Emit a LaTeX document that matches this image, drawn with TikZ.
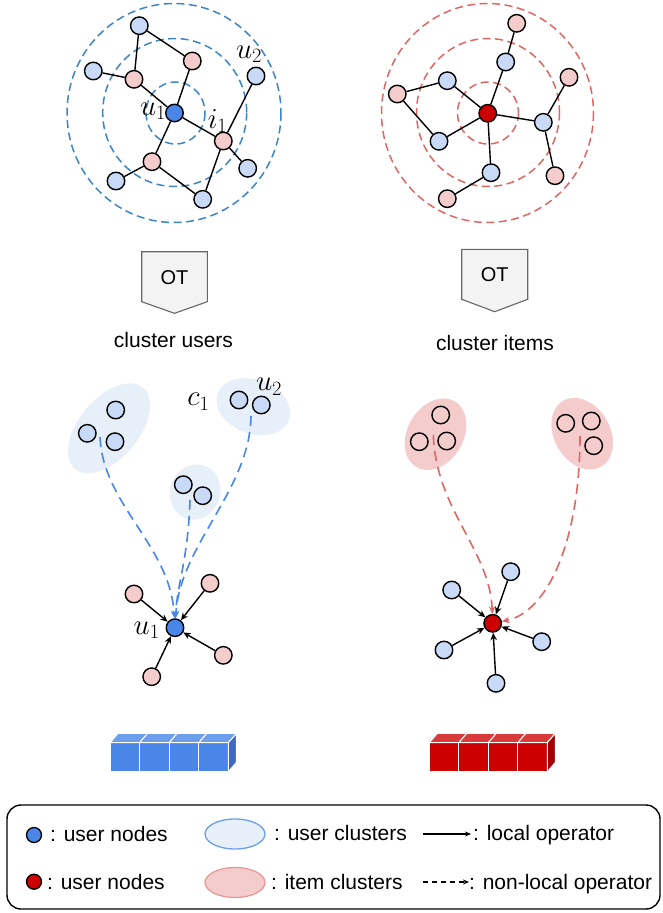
\RequirePackage{fix-cm}
\documentclass[tikz,border=0pt]{standalone}
\usepackage[no-math]{fontspec}
\setmainfont{Liberation Sans}
\usetikzlibrary{shapes.geometric,arrows.meta}
\definecolor{ublue}{HTML}{4A86E8}
\definecolor{lblue}{HTML}{C9DAF8}
\definecolor{lpink}{HTML}{F4CCCC}
\definecolor{ured}{HTML}{CC0000}
\definecolor{cblue}{HTML}{E7EFF8}
\definecolor{ringblue}{HTML}{3D85C6}
\definecolor{ringred}{HTML}{E06666}
\definecolor{otgray}{HTML}{F3F3F3}
\definecolor{otedge}{HTML}{666666}
\definecolor{bfront}{HTML}{4A86E8}
\definecolor{btop}{HTML}{6D9EEB}
\definecolor{bside}{HTML}{3C6BC0}
\definecolor{rfront}{HTML}{CC0000}
\definecolor{rtop}{HTML}{D93B3B}
\definecolor{rside}{HTML}{A00000}
\definecolor{legblue}{HTML}{6D9EEB}
\definecolor{legpink}{HTML}{EA9999}
\begin{document}
\begin{tikzpicture}[x=1pt,y=-1pt,
  vtx/.style={circle,draw=black,line width=1.4pt,minimum size=17.5pt,inner sep=0pt},
  bn/.style={vtx,fill=lblue},
  pn/.style={vtx,fill=lpink},
  un/.style={vtx,fill=ublue},
  rn/.style={vtx,fill=ured},
  edge/.style={line width=1.4pt},
  ring/.style={dash pattern=on 8pt off 4.5pt,line width=1.5pt},
  lab/.style={inner sep=0pt,font=\fontsize{29}{32}\selectfont},
  txt/.style={inner sep=0pt,font=\fontsize{21}{24}\selectfont},
  la/.style={-{Stealth[length=7.5pt,width=6.5pt]},line width=1.4pt},
  nla/.style={-{Stealth[length=7.5pt,width=6.5pt]},line width=1.6pt,dash pattern=on 10pt off 6pt},
  otbox/.style={fill=otgray,draw=otedge,line width=1.1pt},
  clu/.style={ellipse,inner sep=0pt},
  cubeedge/.style={draw=white,line width=1pt,line join=round}
]
\useasboundingbox (0,0) rectangle (663,913);

% ---------------- top-left graph ----------------
\draw[ring,ringblue] (175.5,113) ellipse [x radius=29.5, y radius=31];
\draw[ring,ringblue] (174.7,112.5) ellipse [x radius=72, y radius=74];
\draw[ring,ringblue] (174,113) ellipse [x radius=107, y radius=109.5];

\node[un] (u1) at (174.5,113) {};
\node[bn] (a1) at (139.3,25.7) {};
\node[pn] (a2) at (192.3,61) {};
\node[bn] (a3) at (93.3,71) {};
\node[pn] (a4) at (134,79.3) {};
\node[bn] (a5) at (256,76) {};
\node[pn] (a6) at (223.3,141) {};
\node[bn] (a7) at (247.7,168.3) {};
\node[pn] (a8) at (152,161.7) {};
\node[bn] (a9) at (116,181) {};
\node[bn] (a10) at (202.7,199.3) {};
\foreach \p/\q in {a1/a4,a1/a2,a3/a4,a4/u1,a2/u1,u1/a6,u1/a8,a8/a9,a8/a10,a6/a10,a6/a5,a6/a7}
  \draw[edge] (\p) -- (\q);
\node[lab] (lu1) at (153,111) {$u_1$};
\node[lab] (li1) at (217.5,121) {$i_1$};
\node[lab] (lu2) at (249,54) {$u_2$};

% ---------------- top-right graph ----------------
\draw[ring,ringred] (488,113) ellipse [x radius=30.5, y radius=31];
\draw[ring,ringred] (488,112.5) ellipse [x radius=71.5, y radius=74];
\draw[ring,ringred] (487.5,113) ellipse [x radius=106, y radius=109.5];

\node[rn] (r0) at (487.7,113.3) {};
\node[pn] (b1) at (516.7,23.3) {};
\node[bn] (b2) at (505.7,62) {};
\node[pn] (b3) at (569,77.3) {};
\node[bn] (b4) at (447.3,80.7) {};
\node[pn] (b5) at (397.3,94) {};
\node[bn] (b6) at (543.3,122.3) {};
\node[bn] (b7) at (439,141.3) {};
\node[pn] (b8) at (555,175.7) {};
\node[bn] (b9) at (491,172.7) {};
\node[pn] (b10) at (447.3,198.7) {};
\foreach \p/\q in {b1/b2,b2/r0,b3/b6,b6/r0,b6/b8,b4/r0,b4/b5,b5/b7,b7/r0,r0/b9,b9/b10}
  \draw[edge] (\p) -- (\q);

% ---------------- OT boxes ----------------
\draw[otbox] (141.7,251.7) -- (207.3,251.7) -- (207.3,301.7) -- (174.5,313.3) -- (141.7,301.7) -- cycle;
\node[txt,anchor=base,font=\fontsize{20}{24}\selectfont] (ot1) at (174.5,284.5) {OT};
\node[txt,anchor=base] (cu) at (173.5,347) {cluster users};
\draw[otbox] (461.7,249.3) -- (527.7,249.3) -- (527.7,299.3) -- (494.7,311.7) -- (461.7,299.3) -- cycle;
\node[txt,anchor=base,font=\fontsize{20}{24}\selectfont] (ot2) at (494.7,281.7) {OT};
\node[txt,anchor=base] (ci) at (495,350) {cluster items};

% ---------------- user clusters ----------------
\node[clu,fill=cblue,minimum width=106pt,minimum height=60pt,rotate=50] (E1) at (109,428.3) {};
\node[clu,fill=cblue,minimum width=76pt,minimum height=54pt,rotate=-20] (E2) at (253.3,406.7) {};
\node[clu,fill=cblue,minimum width=56pt,minimum height=50pt,rotate=70] (E3) at (195.2,492) {};
\node[bn] (c11) at (115.7,410) {};
\node[bn] (c12) at (87.3,433.3) {};
\node[bn] (c13) at (115,441.7) {};
\node[bn] (c21) at (239,400) {};
\node[bn] (c22) at (261.3,405) {};
\node[bn] (c31) at (183.3,484.7) {};
\node[bn] (c32) at (202.7,495.7) {};
\node[lab] (lc1) at (198.3,401.7) {$c_1$};
\node[lab] (lu2b) at (269,386.7) {$u_2$};

% bottom-left star
\node[un] (v0) at (175,627.7) {};
\node[pn] (v1) at (134,594) {};
\node[pn] (v2) at (210,583.3) {};
\node[pn] (v3) at (223.3,655.3) {};
\node[pn] (v4) at (151.7,676.7) {};
\foreach \p in {v1,v2,v3,v4} \draw[la] (\p) -- (v0);
\node[lab] (lu1b) at (146.7,630) {$u_1$};

\coordinate (s1) at (100,437);
\coordinate (s2) at (190,500);
\coordinate (s3) at (251,416);
\draw[nla,ublue] (s1) .. controls (103,505) and (170,545) .. (v0);
\draw[nla,ublue] (s2) .. controls (188,560) and (177,585) .. (v0);
\draw[nla,ublue] (s3) .. controls (250,490) and (180,545) .. (v0);

% ---------------- item clusters ----------------
\node[clu,fill=lpink,minimum width=76pt,minimum height=56pt,rotate=60] (F1) at (435.5,434.2) {};
\node[clu,fill=lpink,minimum width=76pt,minimum height=56pt,rotate=-60] (F2) at (582.2,433.7) {};
\node[pn] (d11) at (440.7,415) {};
\node[pn] (d12) at (419.3,441.7) {};
\node[pn] (d13) at (446.7,441) {};
\node[pn] (d21) at (565.7,423.3) {};
\node[pn] (d22) at (591.3,421) {};
\node[pn] (d23) at (593.7,445.7) {};

% bottom-right star
\node[rn] (w0) at (492.7,623.3) {};
\node[bn] (w1) at (451.7,590) {};
\node[bn] (w2) at (510.7,571.7) {};
\node[bn] (w3) at (541.7,641.7) {};
\node[bn] (w4) at (444,650) {};
\node[bn] (w5) at (496,683.3) {};
\foreach \p in {w1,w2,w3,w4,w5} \draw[la] (\p) -- (w0);

\coordinate (t1) at (433.3,435);
\coordinate (t2) at (580,436);
\draw[nla,ringred] (t1) .. controls (436,510) and (490,550) .. (w0);
\draw[nla,ringred] (t2) .. controls (580,540) and (548,612) .. (w0);

% ---------------- embeddings (cubes) ----------------
\foreach \i in {0,...,3} {
  \pgfmathsetmacro{\xx}{110+29.6*\i}
  \filldraw[fill=bfront,cubeedge] (\xx,742.7) rectangle (\xx+29.6,771.7);
  \filldraw[fill=btop,cubeedge] (\xx,742.7) -- (\xx+8,733.4) -- (\xx+37.6,733.4) -- (\xx+29.6,742.7) -- cycle;
}
\filldraw[fill=bside,cubeedge] (228.4,742.7) -- (236.4,733.4) -- (236.4,762.4) -- (228.4,771.7) -- cycle;
\foreach \i in {0,...,3} {
  \pgfmathsetmacro{\xx}{429.3+29.5*\i}
  \filldraw[fill=rfront,cubeedge] (\xx,742.7) rectangle (\xx+29.5,771.7);
  \filldraw[fill=rtop,cubeedge] (\xx,742.7) -- (\xx+8,733.4) -- (\xx+37.5,733.4) -- (\xx+29.5,742.7) -- cycle;
}
\filldraw[fill=rside,cubeedge] (547.3,742.7) -- (555.3,733.4) -- (555.3,762.4) -- (547.3,771.7) -- cycle;

% ---------------- legend ----------------
\draw[line width=1.4pt,rounded corners=14pt] (7,805) rectangle (660,909);
\node[circle,draw=black,line width=1.3pt,fill=ublue,minimum size=15pt,inner sep=0pt] (k1) at (34,835) {};
\node[txt,anchor=base west] (k1t) at (50,841.7) {: user nodes};
\node[circle,draw=black,line width=1.3pt,fill=ured,minimum size=15pt,inner sep=0pt] (k4) at (34,881.7) {};
\node[txt,anchor=base west] (k4t) at (47,889.5) {: user nodes};
\node[ellipse,draw=legblue,fill=cblue,line width=1.3pt,minimum width=60pt,minimum height=30pt,inner sep=0pt] (k2) at (235,834) {};
\node[txt,anchor=base west] (k2t) at (274,840.7) {: user clusters};
\node[ellipse,draw=legpink,fill=lpink,line width=1.3pt,minimum width=60pt,minimum height=30pt,inner sep=0pt] (k5) at (235,882.5) {};
\node[txt,anchor=base west] (k5t) at (271,889.3) {: item clusters};
\coordinate (k3a) at (423,834);
\coordinate (k3b) at (471,834);
\draw[line width=1.1pt,-{Stealth[length=6pt,width=5pt]}] (k3a) -- (k3b);
\node[txt,anchor=base west] (k3t) at (473,840.7) {: local operator};
\coordinate (k6a) at (423,882);
\coordinate (k6b) at (469,882);
\draw[line width=1.1pt,dash pattern=on 5pt off 4pt,-{Stealth[length=6pt,width=5pt]}] (k6a) -- (k6b);
\node[txt,anchor=base west] (k6t) at (469,889.3) {: non-local operator};
\end{tikzpicture}
\end{document}
